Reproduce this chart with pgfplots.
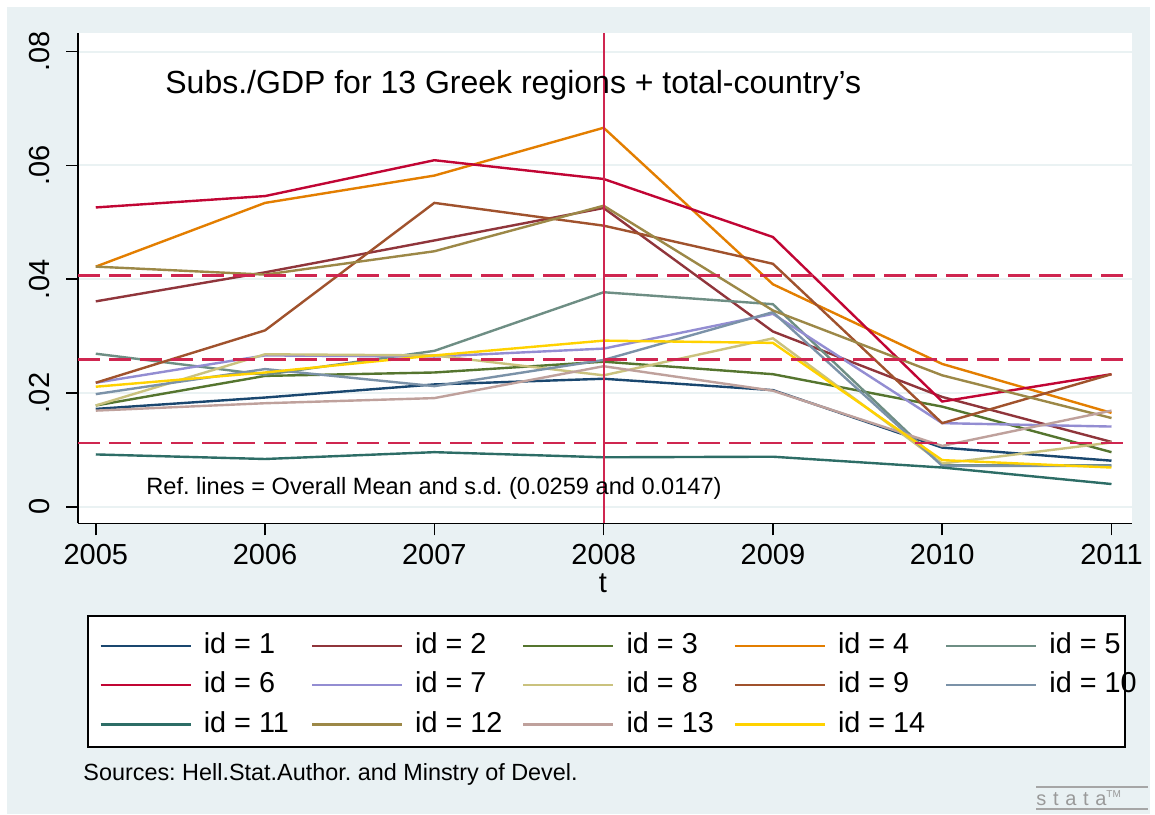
\documentclass[border=0pt]{standalone}
\usepackage{pgfplots}
\pgfplotsset{compat=1.18}
\usepackage{fontspec}
\setmainfont{Liberation Sans}
\frenchspacing
\definecolor{bgc}{RGB}{233,241,243}
\definecolor{gridc}{RGB}{234,242,243}
\definecolor{refc}{RGB}{207,38,80}
\definecolor{c1}{RGB}{26,71,111}
\definecolor{c2}{RGB}{144,53,59}
\definecolor{c3}{RGB}{85,117,47}
\definecolor{c4}{RGB}{227,126,0}
\definecolor{c5}{RGB}{110,142,132}
\definecolor{c6}{RGB}{193,5,52}
\definecolor{c7}{RGB}{147,141,210}
\definecolor{c8}{RGB}{202,194,126}
\definecolor{c9}{RGB}{160,82,45}
\definecolor{c10}{RGB}{123,146,168}
\definecolor{c11}{RGB}{45,109,102}
\definecolor{c12}{RGB}{156,136,71}
\definecolor{c13}{RGB}{191,161,156}
\definecolor{c14}{RGB}{255,210,0}
\newcommand{\LA}[1]{\hspace*{6pt}\makebox[53.5pt][l]{#1}}
\newcommand{\LB}[1]{\hspace*{6pt}\makebox[37pt][l]{#1}}
\begin{document}
\begin{tikzpicture}
\begin{scope}[x=0.5pt,y=-0.5pt,yshift=407pt]
\fill[white] (0,0) rectangle (1155,814);
\fill[bgc] (7,7) rectangle (1150,814);
\fill[white] (78,33.3) rectangle (1131.8,523.3);
\draw[black,line width=0.8pt,fill=white] (88,615.7) rectangle (1125,746.7);
\end{scope}
\begin{axis}[
 at={(39pt,145.35pt)}, anchor=south west,
 scale only axis, width=526.9pt, height=245pt,
 xmin=2004.895, xmax=2011.12, ymin=-0.0029, ymax=0.0832,
 axis x line*=bottom, axis y line*=left,
 axis line style={-, line width=0.8pt, black},
 xtick={2005,2006,2007,2008,2009,2010,2011},
 xticklabels={2005,2006,2007,2008,2009,2010,2011},
 ytick={0,0.02,0.04,0.06,0.08},
 yticklabels={0,.02,.04,.06,.08},
 scaled y ticks=false, scaled x ticks=false,
 tick align=outside, major tick length=6pt,
 tick style={black,line width=0.8pt},
 ymajorgrids, major grid style={gridc, line width=1pt},
 ticklabel style={font=\fontsize{14.5}{17}\selectfont},
 yticklabel style={rotate=90, anchor=south, inner sep=0pt, yshift=8pt},
 xticklabel style={anchor=north, inner sep=0pt, yshift=-4.5pt},
 legend columns=5,
 legend style={draw=none, fill=none, inner sep=0pt,
   at={(0.01993,-0.2212)}, anchor=north west,
   nodes={inner sep=0pt, text height=10.8pt, text depth=3pt},
   font=\fontsize{14.4}{17}\selectfont, row sep=5.85pt},
 legend image code/.code={\draw[#1] (0pt,0pt) -- (45pt,0pt);},
 every axis plot/.append style={line width=1.2pt},
]
\addplot[c1] coordinates {(2005,0.0172) (2006,0.0192) (2007,0.0215) (2008,0.0225) (2009,0.0205) (2010,0.0104) (2011,0.0081)};
\addlegendentry{\LA{id = 1}}
\addplot[c2] coordinates {(2005,0.0361) (2006,0.0412) (2007,0.0468) (2008,0.0525) (2009,0.0308) (2010,0.0193) (2011,0.0114)};
\addlegendentry{\LA{id = 2}}
\addplot[c3] coordinates {(2005,0.0178) (2006,0.0230) (2007,0.0236) (2008,0.0255) (2009,0.0233) (2010,0.0176) (2011,0.0096)};
\addlegendentry{\LA{id = 3}}
\addplot[c4] coordinates {(2005,0.0422) (2006,0.0534) (2007,0.0582) (2008,0.0666) (2009,0.0391) (2010,0.0251) (2011,0.0165)};
\addlegendentry{\LA{id = 4}}
\addplot[c5] coordinates {(2005,0.0269) (2006,0.0232) (2007,0.0274) (2008,0.0377) (2009,0.0356) (2010,0.0073) (2011,0.0073)};
\addlegendentry{\LB{id = 5}}
\addplot[c6] coordinates {(2005,0.0526) (2006,0.0546) (2007,0.0609) (2008,0.0576) (2009,0.0474) (2010,0.0185) (2011,0.0233)};
\addlegendentry{\LA{id = 6}}
\addplot[c7] coordinates {(2005,0.0218) (2006,0.0266) (2007,0.0264) (2008,0.0278) (2009,0.0339) (2010,0.0147) (2011,0.0141)};
\addlegendentry{\LA{id = 7}}
\addplot[c8] coordinates {(2005,0.0178) (2006,0.0268) (2007,0.0266) (2008,0.0231) (2009,0.0296) (2010,0.0076) (2011,0.0113)};
\addlegendentry{\LA{id = 8}}
\addplot[c9] coordinates {(2005,0.0218) (2006,0.0310) (2007,0.0534) (2008,0.0494) (2009,0.0427) (2010,0.0147) (2011,0.0233)};
\addlegendentry{\LA{id = 9}}
\addplot[c10] coordinates {(2005,0.0198) (2006,0.0242) (2007,0.0212) (2008,0.0258) (2009,0.0342) (2010,0.0072) (2011,0.0072)};
\addlegendentry{\LB{id = 10}}
\addplot[c11] coordinates {(2005,0.0092) (2006,0.0084) (2007,0.0096) (2008,0.0087) (2009,0.0088) (2010,0.0069) (2011,0.0040)};
\addlegendentry{\LA{id = 11}}
\addplot[c12] coordinates {(2005,0.0422) (2006,0.0408) (2007,0.0449) (2008,0.0529) (2009,0.0345) (2010,0.0231) (2011,0.0156)};
\addlegendentry{\LA{id = 12}}
\addplot[c13] coordinates {(2005,0.0169) (2006,0.0182) (2007,0.0191) (2008,0.0247) (2009,0.0204) (2010,0.0107) (2011,0.0169)};
\addlegendentry{\LA{id = 13}}
\addplot[c14] coordinates {(2005,0.0211) (2006,0.0236) (2007,0.0266) (2008,0.0292) (2009,0.0288) (2010,0.0082) (2011,0.0069)};
\addlegendentry{\LA{id = 14}}
% reference lines: overall mean and mean +/- s.d.
\addplot[refc, line width=1.3pt, dash pattern=on 11pt off 4.5pt, forget plot] coordinates {(2004.895,0.0406) (2011.12,0.0406)};
\addplot[refc, line width=1.3pt, dash pattern=on 11pt off 4.5pt, forget plot] coordinates {(2004.895,0.0259) (2011.12,0.0259)};
\addplot[refc, line width=1.3pt, dash pattern=on 11pt off 4.5pt, forget plot] coordinates {(2004.895,0.0112) (2011.12,0.0112)};
\addplot[refc, line width=1.1pt, forget plot] coordinates {(2008,-0.0029) (2008,0.0832)};
\end{axis}
\begin{scope}[x=0.5pt,y=-0.5pt,yshift=407pt]
\node[anchor=base west, inner sep=0pt, font=\fontsize{16}{19}\selectfont] at (165,93.3) {Subs./GDP for 13 Greek regions + total-country's};
\node[anchor=base west, inner sep=0pt, font=\fontsize{11.8}{14}\selectfont] at (146,495) {Ref. lines = Overall Mean and s.d. (0.0259 and 0.0147)};
\node[anchor=base, inner sep=0pt, font=\fontsize{14.5}{17}\selectfont] at (603,593) {t};
\node[anchor=base west, inner sep=0pt, font=\fontsize{11.7}{14}\selectfont] at (83,780) {Sources: Hell.Stat.Author. and Minstry of Devel.};
\draw[gray!70, line width=0.6pt] (1036,787) -- (1148,787);
\draw[gray!70, line width=0.6pt] (1036,809) -- (1148,809);
\node[anchor=base west, inner sep=0pt, text=gray!80, font=\fontsize{10}{10}\selectfont] at (1036,805) {s\,\,t\,\,a\,\,t\,\,a\textsuperscript{\fontsize{5}{5}\selectfont TM}};
\end{scope}
\end{tikzpicture}
\end{document}
